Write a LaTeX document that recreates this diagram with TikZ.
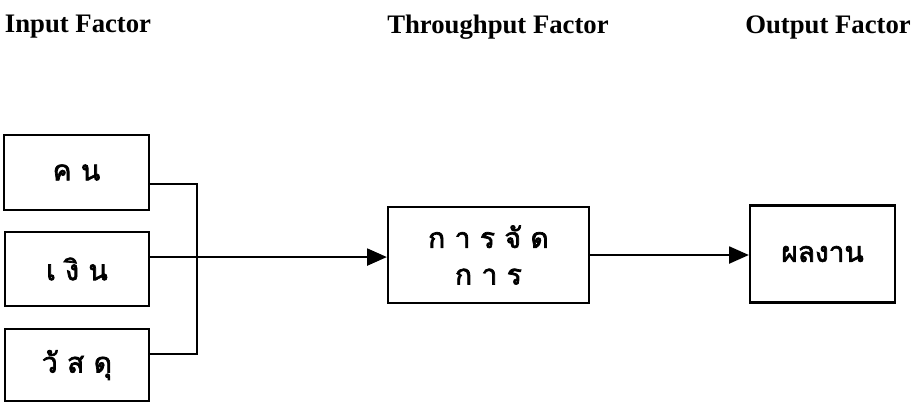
\documentclass[tikz,border=0pt]{standalone}
\usepackage{fontspec}
\setmainfont{Liberation Serif}
\newfontfamily\thaifont[Script=Thai, FakeBold=2.5]{Loma}
\usetikzlibrary{arrows.meta}

\begin{document}
\begin{tikzpicture}[x=0.025cm, y=-0.025cm,
	box/.style={draw, line width=1.6pt, inner sep=0pt, font=\thaifont\fontsize{20}{26}\selectfont, align=center},
	head/.style={font=\bfseries\fontsize{19}{22}\selectfont},
	wire/.style={line width=1.6pt},
	arrow/.style={line width=1.6pt, -{Triangle[length=14pt, width=12pt]}}]
	\useasboundingbox (0,0) rectangle (920,402);

	\node[head] (input) at (78,27) {Input Factor};
	\node[head] (through) at (498,27) {Throughput Factor};
	\node[head] (output) at (828,27) {Output Factor};

	\node[box, minimum width=145*0.025cm, minimum height=75*0.025cm] (kon) at (76.5,172.5) {ค น};
	\node[box, minimum width=144*0.025cm, minimum height=74*0.025cm] (ngoen) at (77,269) {เ งิ น};
	\node[box, minimum width=144*0.025cm, minimum height=72*0.025cm] (wasadu) at (77,365) {วั ส ดุ};
	\node[box, minimum width=201*0.025cm, minimum height=96*0.025cm] (jatkan) at (488.5,255) {ก า ร จั ด\\ก า ร};
	\node[box, minimum width=145*0.025cm, minimum height=97*0.025cm] (phonngan) at (822.5,254) {ผลงาน};

	\coordinate (konout) at ([yshift=-8pt]kon.east);
	\coordinate (ngoenout) at ([yshift=8.5pt]ngoen.east);
	\coordinate (wasaduout) at ([yshift=8pt]wasadu.east);
	\coordinate (bus) at (197,257);

	\draw[wire] (konout) -| (bus) |- (wasaduout);
	\draw[arrow] (ngoenout) -- (ngoenout -| jatkan.west);
	\draw[arrow] (jatkan.east) -- (jatkan.east -| phonngan.west);
\end{tikzpicture}
\end{document}
